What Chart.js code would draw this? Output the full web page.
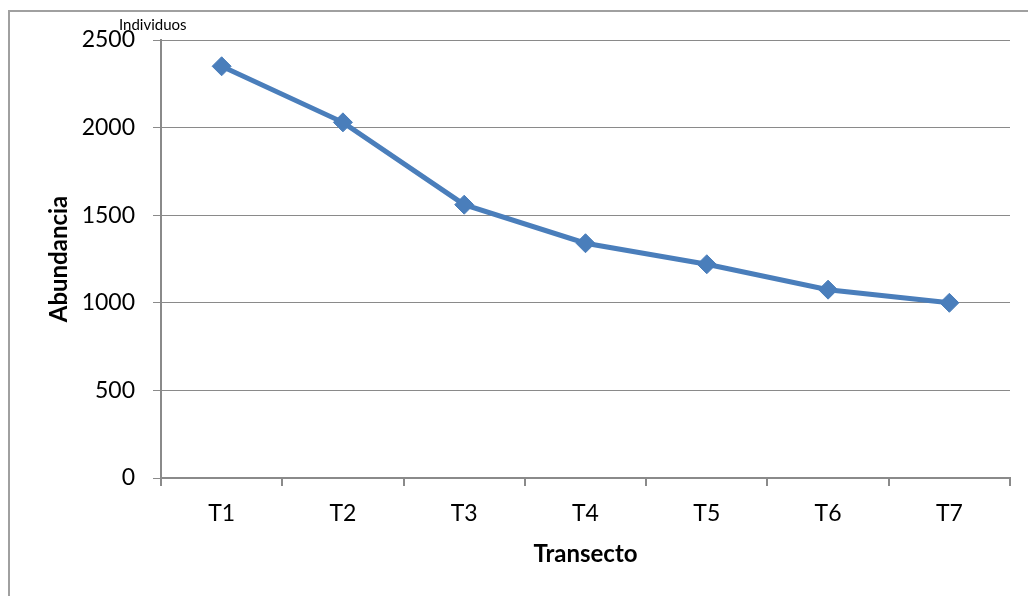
<!DOCTYPE html>
<html>
<head>
<meta charset="utf-8">
<script src="https://cdn.jsdelivr.net/npm/chart.js@4/dist/chart.umd.min.js"></script>
<style>
  html, body { margin: 0; padding: 0; background: #fff; }
  #wrap { position: relative; width: 1028px; height: 596px; overflow: hidden; }
  #frame { position: absolute; left: 8px; top: 10px; width: 1200px; height: 800px;
           border-left: 2px solid #a0a0a0; border-top: 2px solid #a0a0a0; box-sizing: border-box; }
  canvas { position: absolute; left: 0; top: 0; }
</style>
</head>
<body>
<div id="wrap">
  <div id="frame"></div>
  <canvas id="c" width="1028" height="596"></canvas>
</div>
<script>
const categories = ["T1", "T2", "T3", "T4", "T5", "T6", "T7"];
const abundancia = [2350, 2030, 1560, 1340, 1220, 1075, 1000];
const yTicks = [0, 500, 1000, 1500, 2000, 2500];
const yTitle = "Abundancia";
const xTitle = "Transecto";
const unitLabel = "Individuos";

const lineBlue = "#4a7ebb";
const gridGray = "#8a8a8a";

const unitPlugin = {
  id: "unitLabel",
  afterDraw(chart) {
    const ctx = chart.ctx;
    ctx.save();
    ctx.font = "15px Lato";
    ctx.fillStyle = "#000";
    ctx.textAlign = "left";
    ctx.textBaseline = "middle";
    ctx.fillText(unitLabel, 119, 25);
    ctx.restore();
  }
};

new Chart(document.getElementById("c"), {
  type: "line",
  data: {
    labels: categories,
    datasets: [{
      data: abundancia,
      borderColor: lineBlue,
      backgroundColor: lineBlue,
      borderWidth: 5,
      tension: 0,
      pointStyle: "rectRot",
      pointRadius: 9.5,
      pointHoverRadius: 9.5,
      pointBorderWidth: 1,
      pointBorderColor: lineBlue,
      pointBackgroundColor: lineBlue,
      clip: false
    }]
  },
  options: {
    responsive: false,
    animation: false,
    devicePixelRatio: 1,
    layout: { padding: { top: 40, right: 18, left: 0, bottom: 0 } },
    plugins: {
      legend: { display: false },
      tooltip: { enabled: false },
      title: { display: false }
    },
    scales: {
      x: {
        type: "category",
        offset: true,
        afterFit(scale) { scale.height = 118; },
        grid: {
          display: true,
          drawOnChartArea: false,
          drawTicks: true,
          tickLength: 8,
          offset: true,
          color: gridGray,
          lineWidth: 2
        },
        border: { display: true, color: gridGray, width: 2 },
        ticks: {
          color: "#000",
          font: { family: "Lato", size: 23 },
          padding: 14,
          maxRotation: 0
        },
        title: {
          display: true,
          text: xTitle,
          color: "#000",
          font: { family: "Lato", size: 24, weight: "bold" },
          padding: { top: 0, bottom: 27 }
        }
      },
      y: {
        min: 0,
        max: 2500,
        afterFit(scale) { scale.width = 161; },
        afterBuildTicks(scale) { scale.ticks = yTicks.map(v => ({ value: v })); },
        grid: {
          display: true,
          drawOnChartArea: true,
          drawTicks: true,
          tickLength: 8,
          color: gridGray,
          lineWidth: 1
        },
        border: { display: true, color: gridGray, width: 2 },
        ticks: {
          color: "#000",
          font: { family: "Lato", size: 23 },
          padding: 18,
          callback: (v) => String(v)
        },
        title: {
          display: true,
          text: yTitle,
          color: "#000",
          font: { family: "Lato", size: 24, weight: "bold" },
          padding: { top: 45, bottom: 0 }
        }
      }
    }
  },
  plugins: [unitPlugin]
});
</script>
</body>
</html>
